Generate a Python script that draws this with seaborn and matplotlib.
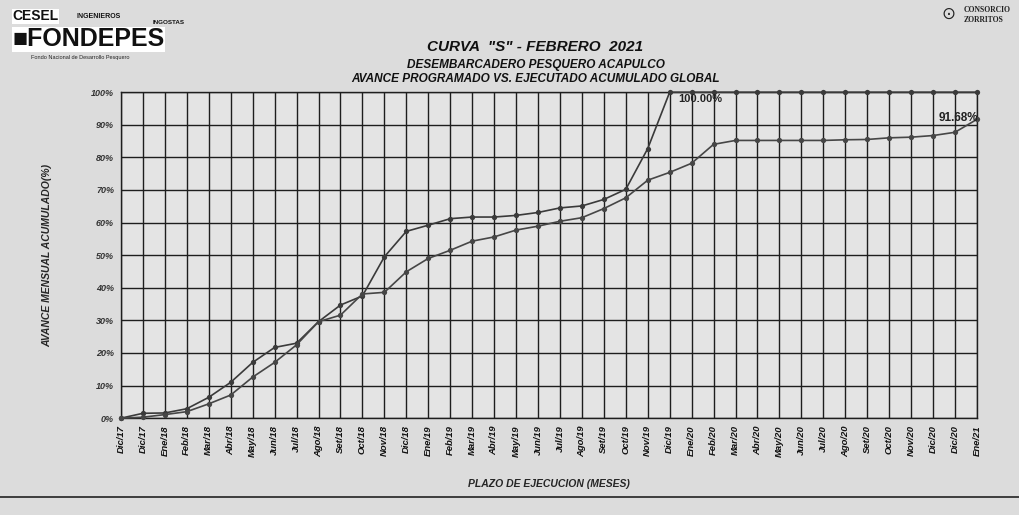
import numpy as np
import matplotlib
matplotlib.use("Agg")
import matplotlib.pyplot as plt
import pandas as pd
import seaborn as sns

# month labels along the x axis (as printed on the chart)
meses = ['Dic/17', 'Dic/17', 'Ene/18', 'Feb/18', 'Mar/18', 'Abr/18', 'May/18', 'Jun/18',
         'Jul/18', 'Ago/18', 'Set/18', 'Oct/18', 'Nov/18', 'Dic/18', 'Ene/19', 'Feb/19',
         'Mar/19', 'Abr/19', 'May/19', 'Jun/19', 'Jul/19', 'Ago/19', 'Set/19', 'Oct/19',
         'Nov/19', 'Dic/19', 'Ene/20', 'Feb/20', 'Mar/20', 'Abr/20', 'May/20', 'Jun/20',
         'Jul/20', 'Ago/20', 'Set/20', 'Oct/20', 'Nov/20', 'Dic/20', 'Dic/20', 'Ene/21']

# accumulated progress (%)
programado = [0.0, 1.5, 1.6, 2.9, 6.4, 11.0, 17.1, 21.7, 23.0, 29.6, 34.7, 37.5, 49.5,
              57.3, 59.2, 61.2, 61.7, 61.7, 62.2, 63.1, 64.5, 65.1, 67.1, 70.2, 82.7,
              100, 100, 100, 100, 100, 100, 100, 100, 100, 100, 100, 100, 100, 100, 100]
ejecutado = [0.0, 0.3, 1.1, 2.0, 4.4, 7.1, 12.6, 17.1, 22.5, 29.6, 31.6, 38.1, 38.6,
             44.9, 49.0, 51.5, 54.3, 55.6, 57.7, 58.9, 60.4, 61.5, 64.3, 67.6, 73.0,
             75.4, 78.2, 84.0, 85.2, 85.2, 85.2, 85.2, 85.2, 85.4, 85.5, 86.0, 86.2,
             86.7, 87.7, 91.68]

df = pd.DataFrame({'x': np.arange(len(meses)),
                   'Programado': programado,
                   'Ejecutado': ejecutado})
long = df.melt(id_vars='x', var_name='serie', value_name='avance')

sns.set_style("white")
plt.rcParams['font.family'] = ['Liberation Sans', 'DejaVu Sans']

fig = plt.figure(figsize=(10.2, 5.15), dpi=100, facecolor='#dcdcdc')
ax = fig.add_axes([0.1186, 0.188, 0.8392, 0.633])
ax.set_facecolor('#e4e4e4')

sns.lineplot(data=long, x='x', y='avance', hue='serie',
             palette={'Programado': '#3a3a3a', 'Ejecutado': '#464646'},
             marker='o', markersize=3.8, markeredgewidth=0, linewidth=1.2,
             legend=False, ax=ax, zorder=3)
for ln in ax.lines:
    ln.set_clip_on(False)

ax.set_xlim(0, len(meses) - 1)
ax.set_ylim(0, 100)
ax.set_xticks(np.arange(len(meses)))
ax.set_xticklabels(meses, rotation=90, fontsize=6.8, style='italic', fontweight='bold',
                   color='#111111')
ax.set_yticks(np.arange(0, 101, 10))
ax.set_yticklabels([f'{v}%' for v in range(0, 101, 10)], fontsize=6.5,
                   style='italic', fontweight='bold', color='#333333')
ax.tick_params(axis='both', length=3, width=0.8, color='#222222', pad=2)
ax.grid(True, color='#1e1e1e', linewidth=1.0)
ax.set_axisbelow(True)
for s in ax.spines.values():
    s.set_color('#1e1e1e')
    s.set_linewidth(1.0)

ax.set_xlabel('PLAZO DE EJECUCION (MESES)', fontsize=7.5, fontweight='bold',
              style='italic', labelpad=16)
ax.set_ylabel('AVANCE MENSUAL ACUMULADO(%)', fontsize=7.5, fontweight='bold',
              style='italic', labelpad=28)

ax.annotate('100.00%', xy=(25, 100), xytext=(25.4, 98.0), fontsize=8,
            fontweight='bold', color='#222222', ha='left', va='center')
ax.annotate('91.68%', xy=(39, ejecutado[-1]), xytext=(39.05, 92.2), fontsize=8.5,
            fontweight='bold', color='#222222', ha='right', va='center')

# titles
fig.text(0.525, 0.908, 'CURVA  "S" - FEBRERO  2021', ha='center', va='center',
         fontsize=11, fontweight='bold', style='italic', color='#111111')
fig.text(0.525, 0.873, 'DESEMBARCADERO PESQUERO ACAPULCO', ha='center', va='center',
         fontsize=8.5, fontweight='bold', style='italic', color='#111111')
fig.text(0.525, 0.846, 'AVANCE PROGRAMADO VS. EJECUTADO ACUMULADO GLOBAL', ha='center',
         va='center', fontsize=8.5, fontweight='bold', style='italic', color='#111111')

# logos (as text)
fig.text(0.012, 0.968, 'CESEL', fontsize=10, fontweight='bold', color='#111111',
         va='center', bbox=dict(facecolor='white', edgecolor='none', pad=0.5))
fig.text(0.075, 0.968, 'INGENIEROS', fontsize=5, fontweight='bold', color='#111111',
         va='center')
fig.text(0.15, 0.956, 'INGOSTAS', fontsize=4.5, fontweight='bold', color='#111111',
         va='center')
fig.text(0.012, 0.924, '\u25a0FONDEPES', fontsize=18, fontweight='black', color='#111111',
         va='center', bbox=dict(facecolor='white', edgecolor='none', pad=0.3))
fig.text(0.03, 0.888, 'Fondo Nacional de Desarrollo Pesquero', fontsize=4, color='#222222',
         va='center')
fig.text(0.93, 0.972, '\u2299', fontsize=12, color='#222222', ha='center', va='center')
fig.text(0.945, 0.98, 'CONSORCIO', fontsize=5.5, fontweight='bold', family='Liberation Serif',
         color='#222222', va='center')
fig.text(0.945, 0.962, 'ZORRITOS', fontsize=5.5, fontweight='bold', family='Liberation Serif',
         color='#222222', va='center')

# bottom rule of the scanned page
fig.add_artist(plt.Line2D([0, 1], [0.035, 0.035], transform=fig.transFigure,
                          color='#222222', linewidth=1.2))

fig.savefig('out.png', dpi=100, facecolor=fig.get_facecolor())
